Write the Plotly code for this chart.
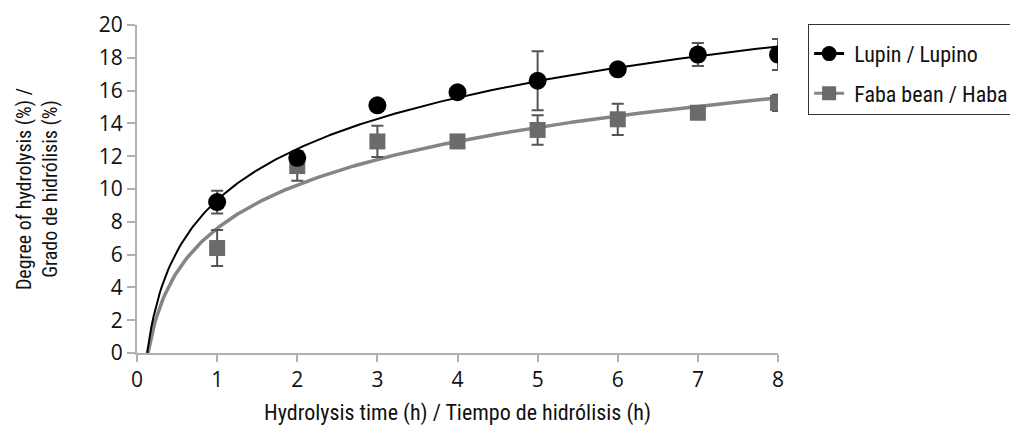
import numpy as np
import plotly.graph_objects as go

time_h = [1, 2, 3, 4, 5, 6, 7, 8]
lupin = [9.2, 11.9, 15.1, 15.9, 16.6, 17.3, 18.2, 18.2]
lupin_err = [0.7, 0.4, 0.2, 0.3, 1.8, 0.3, 0.7, 0.95]
faba = [6.4, 11.4, 12.9, 12.9, 13.6, 14.25, 14.65, 15.25]
faba_err = [1.1, 0.9, 0.95, 0.4, 0.9, 0.95, 0.3, 0.5]
y_ticks = list(range(0, 21, 2))
x_ticks = list(range(0, 9))

cond = "Liberation Sans Narrow, Roboto Condensed, Arial Narrow, sans-serif"
tickfont = dict(family="Open Sans, sans-serif", size=21, color="#111")


def log_fit(x, y):
    a, b = np.polyfit(np.log(x), y, 1)
    x0 = np.exp(-b / a)
    xs = np.linspace(x0, 8, 300)
    return xs, a * np.log(xs) + b


fig = go.Figure()

lx, ly = log_fit(time_h, lupin)
fx, fy = log_fit(time_h, faba)

fig.add_trace(go.Scatter(x=fx, y=fy, mode="lines", line=dict(color="#858585", width=3.5),
                         showlegend=False, hoverinfo="skip"))
fig.add_trace(go.Scatter(x=lx, y=ly, mode="lines", line=dict(color="#000", width=2),
                         showlegend=False, hoverinfo="skip"))

fig.add_trace(go.Scatter(x=time_h, y=faba, mode="markers", name="Faba bean / Haba", showlegend=False,
                         marker=dict(symbol="square", size=16, color="#6b6b6b"),
                         error_y=dict(type="data", array=faba_err, color="#555", thickness=2, width=6)))
fig.add_trace(go.Scatter(x=time_h, y=lupin, mode="markers", name="Lupin / Lupino", showlegend=False,
                         marker=dict(symbol="circle", size=18, color="#000"),
                         error_y=dict(type="data", array=lupin_err, color="#555", thickness=2, width=6)))

# legend entries with line + marker
fig.add_trace(go.Scatter(x=[None], y=[None], mode="lines+markers", name=" Lupin / Lupino", legendgroup="a",
                         line=dict(color="#000", width=3), marker=dict(symbol="circle", size=15, color="#000")))
fig.add_trace(go.Scatter(x=[None], y=[None], mode="lines+markers", name=" Faba bean / Haba", legendgroup="b",
                         line=dict(color="#858585", width=3), marker=dict(symbol="square", size=14, color="#6b6b6b")))

fig.update_layout(
    width=1018, height=437,
    margin=dict(l=129, r=248, t=17, b=92),
    paper_bgcolor="white", plot_bgcolor="white",
    legend=dict(x=1.047, y=1.003, xanchor="left", yanchor="top",
                bordercolor="#333", borderwidth=1,
                font=dict(family=cond, size=22, color="#111"),
                title=dict(text=" ", font=dict(size=6)),
                tracegroupgap=8, itemsizing="trace"),
    xaxis=dict(range=[0, 8], tickvals=x_ticks, showgrid=False, zeroline=False,
               showline=True, linecolor="#b0b0b0", linewidth=2, automargin=False,
               ticks="outside", ticklen=7, tickcolor="#b0b0b0", tickwidth=2,
               tickfont=tickfont,
               title=dict(text="Hydrolysis time (h) / Tiempo de hidrólisis (h)",
                          font=dict(family=cond, size=22, color="#111"), standoff=12)),
    yaxis=dict(range=[0, 20], tickvals=y_ticks, showgrid=False, zeroline=False,
               showline=True, linecolor="#b0b0b0", linewidth=2, automargin=False,
               ticks="outside", ticklen=8, tickcolor="#b0b0b0", tickwidth=2,
               tickfont=tickfont,
               title=dict(text="Degree of hydrolysis (%) /<br>Grado de hidrólisis (%)",
                          font=dict(family=cond, size=20, color="#111"), standoff=36)),
)

fig.write_html("out.html")
